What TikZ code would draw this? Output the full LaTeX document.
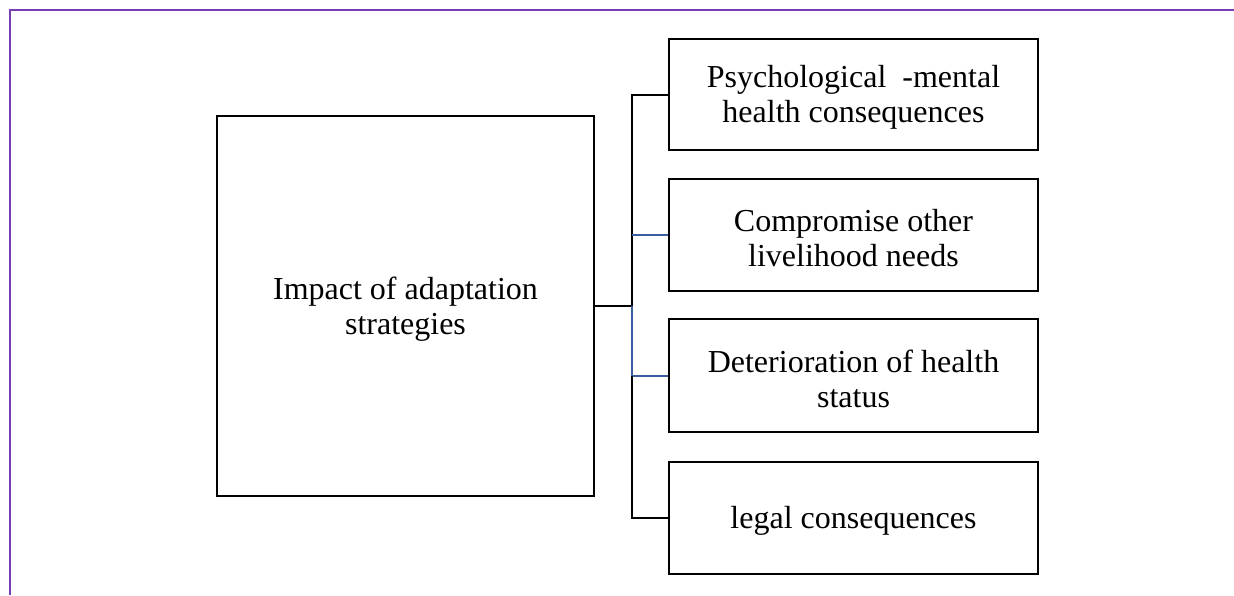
\documentclass[tikz,border=0pt]{standalone}
\usepackage{fontspec}
\setmainfont{Liberation Serif}
\definecolor{frameviolet}{RGB}{118,62,178}
\definecolor{linkblue}{RGB}{60,94,160}
\begin{document}
\begin{tikzpicture}[x=1pt,y=-1pt,
  box/.style={draw=black,line width=2pt,rectangle,inner sep=0pt},
  subbox/.style={box,minimum width=369pt,minimum height=112pt},
  caption/.style={align=center,inner sep=0pt,yshift=-3pt,
    font=\fontsize{32}{35}\selectfont},
  link/.style={line width=2pt},
  bluelink/.style={line width=2pt,draw=linkblue}]
\useasboundingbox (0,0) rectangle (1234,595);
% page frame
\draw[frameviolet,line width=2pt] (1234,10) -- (10,10) -- (10,595);
% main box
\node[box,minimum width=377pt,minimum height=380pt] (main) at (405.5,306) {};
\node[caption] (maintext) at (main.center) {Impact of adaptation\\strategies};
% outcome boxes
\node[subbox,minimum height=111pt] (r1) at (853.5,94.5) {};
\node[subbox] (r2) at (853.5,235) {};
\node[subbox,minimum height=113pt] (r3) at (853.5,375.5) {};
\node[subbox] (r4) at (853.5,518) {};
\node[caption] (r1text) at (r1.center) {Psychological\ \ -mental\\health consequences};
\node[caption] (r2text) at (r2.center) {Compromise other\\livelihood needs};
\node[caption] (r3text) at (r3.center) {Deterioration of health\\status};
\node[caption] (r4text) at (r4.center) {legal consequences};
% branching connectors
\coordinate (bus) at (632,306);
\draw[link,line width=2.5pt] (main.east) -- (bus);
\draw[link] (bus) -- (bus |- r1.west) -- (r1.west);
\draw[bluelink] (bus |- r2.west) -- (r2.west);
\draw[bluelink] (bus) -- (bus |- r3.west) -- (r3.west);
\draw[link] (bus |- r3.west) -- (bus |- r4.west) -- (r4.west);
\end{tikzpicture}
\end{document}
